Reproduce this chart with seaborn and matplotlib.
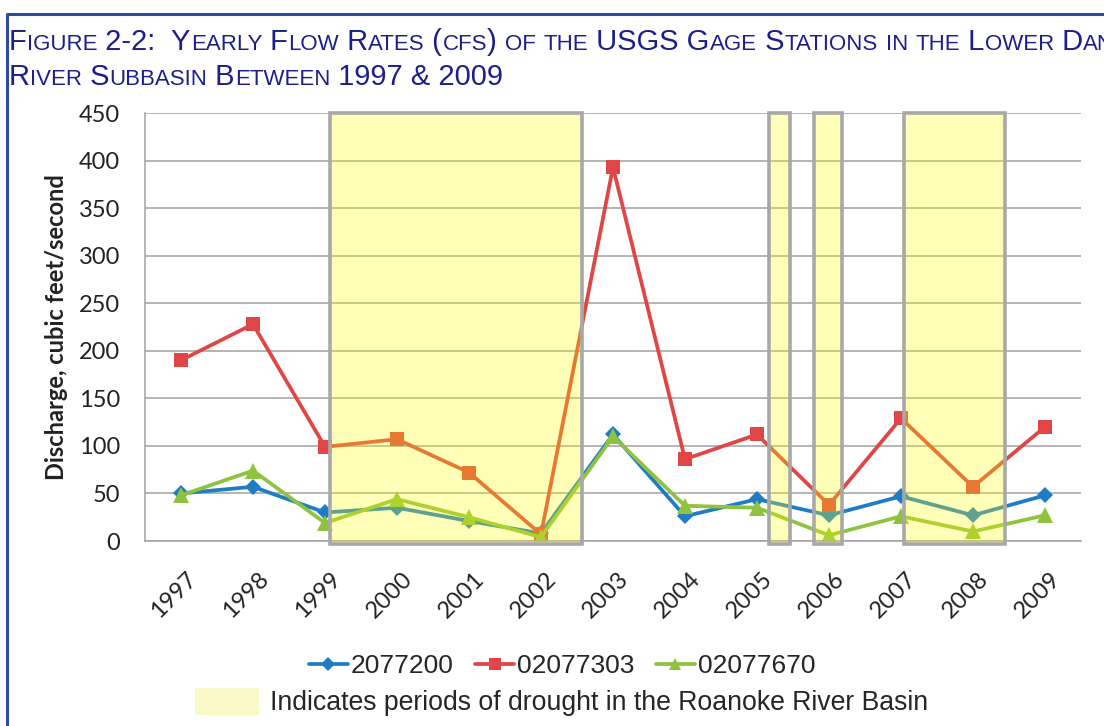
import numpy as np
import pandas as pd
import matplotlib
matplotlib.use("Agg")
import matplotlib.pyplot as plt
import matplotlib.transforms as mtransforms
from matplotlib.patches import Rectangle, Patch
from matplotlib.lines import Line2D
from matplotlib.offsetbox import TextArea, HPacker, VPacker, AnchoredOffsetbox
import seaborn as sns

# ---- data ----
years = ["1997", "1998", "1999", "2000", "2001", "2002", "2003",
         "2004", "2005", "2006", "2007", "2008", "2009"]
stations = ["2077200", "02077303", "02077670"]
flow_2077200 = [50, 57, 30, 35, 21, 8, 112, 26, 44, 27, 47, 27, 48]
flow_02077303 = [190, 228, 99, 107, 72, 7, 393, 86, 112, 38, 129, 57, 120]
flow_02077670 = [48, 74, 19, 44, 25, 4, 110, 37, 35, 6, 26, 10, 27]

# drought periods, in category units (1997 = 0)
drought_start = [2.07, 8.17, 8.79, 10.04]
drought_end = [5.57, 8.46, 9.18, 11.44]

title_lines = ["Figure 2-2:  Yearly Flow Rates (cfs) of the USGS Gage Stations in the Lower Dan",
               "River Subbasin Between 1997 & 2009"]
ylabel = "Discharge, cubic feet/second"
drought_label = "Indicates periods of drought in the Roanoke River Basin"

colors = {"2077200": "#1f7dc6", "02077303": "#e04646", "02077670": "#8fc23f"}
markers = {"2077200": "D", "02077303": "s", "02077670": "^"}
msizes = {"2077200": 8, "02077303": 10, "02077670": 11}

df = pd.DataFrame({
    "pos": list(range(len(years))) * 3,
    "flow": flow_2077200 + flow_02077303 + flow_02077670,
    "station": np.repeat(stations, len(years)),
})

# ---- style ----
sns.set_style("white")
tick_font = "Lato"
text_font = "Liberation Sans"

fig = plt.figure(figsize=(11.04, 7.26), dpi=100)
ax = fig.add_axes([145 / 1104, 1 - 541 / 726, (1081 - 145) / 1104, (541 - 113) / 726])

for st in stations:
    sns.lineplot(data=df[df["station"] == st], x="pos", y="flow", color=colors[st],
                 marker=markers[st], markersize=msizes[st], markeredgewidth=0,
                 linewidth=2.7, ax=ax, legend=False, zorder=2)

# drought overlays (semi transparent yellow on top of the lines)
for s, e in zip(drought_start, drought_end):
    ax.add_patch(Rectangle((s, -3), e - s, 453, facecolor=(1, 1, 0, 0.28),
                           edgecolor="#a8a8a8", linewidth=2.6, zorder=4, clip_on=False))

ax.set_xlim(-0.5, len(years) - 0.5)
ax.set_ylim(0, 450)
ax.set_yticks(np.arange(0, 451, 50))
ax.set_xticks(range(len(years)))
ax.set_xticklabels(years, rotation=45, ha="right", va="center", rotation_mode="anchor",
                   fontsize=17, family=tick_font, color="#222222")
ax.set_xticks(np.arange(-0.5, len(years)), minor=True)
ax.tick_params(axis="x", which="major", length=0, pad=25)
ax.tick_params(axis="x", which="minor", length=7, width=1, color="#a0a0a0", direction="out")
ax.tick_params(axis="y", length=7, width=1, color="#a0a0a0", direction="out", pad=11)
for lab in ax.get_yticklabels():
    lab.set_family(tick_font)
    lab.set_fontsize(17)
    lab.set_color("#222222")
shift = mtransforms.ScaledTranslation(12 / 100, 0, fig.dpi_scale_trans)
for lab in ax.get_xticklabels():
    lab.set_transform(lab.get_transform() + shift)

ax.set_xlabel("")
ax.set_ylabel(ylabel, fontsize=17, fontweight="bold", family=tick_font, color="#222222", labelpad=8)
ax.yaxis.grid(True, color="#a0a0a0", linewidth=1.1)
ax.set_axisbelow(True)
for side in ["top", "right"]:
    ax.spines[side].set_visible(False)
for side in ["left", "bottom"]:
    ax.spines[side].set_color("#a0a0a0")
    ax.spines[side].set_linewidth(1.1)

# ---- legends ----
handles = [Line2D([], [], color=colors[st], marker=markers[st], markersize=msizes[st] * 0.85,
                  markeredgewidth=0, linewidth=2.7) for st in stations]
fig.legend(handles, stations, loc="center", bbox_to_anchor=(562 / 1104, 1 - 666 / 726),
           ncol=3, frameon=False, handlelength=1.5, handletextpad=0.1, columnspacing=0.8,
           prop={"family": text_font, "size": 19})
fig.legend([Patch(facecolor="#fafac8", edgecolor="none")], [drought_label], loc="center left",
           bbox_to_anchor=(171 / 1104, 1 - 702 / 726), frameon=False,
           handlelength=2.4, handleheight=1.2, handletextpad=0.4,
           prop={"family": text_font, "size": 19.2})


# ---- small caps title ----
def small_caps(text, big, small, color):
    runs = []
    for ch in text:
        low = ch.islower()
        if runs and runs[-1][1] == low:
            runs[-1][0] += ch
        else:
            runs.append([ch, low])
    kids = [TextArea(t.upper(), textprops=dict(fontsize=small if low else big, color=color,
                                                family=text_font))
            for t, low in runs]
    return HPacker(children=kids, align="baseline", pad=0, sep=0)


title_box = VPacker(children=[small_caps(t, 21, 16, "#1c1f8a") for t in title_lines],
                    align="left", pad=0, sep=5)
fig.add_artist(AnchoredOffsetbox(loc="upper left", child=title_box, pad=0, borderpad=0,
                                 frameon=False, bbox_to_anchor=(9 / 1104, 1 - 28 / 726),
                                 bbox_transform=fig.transFigure))

# frame around the figure (right and bottom edges fall outside)
fig.add_artist(Line2D([7 / 1104, 7 / 1104, 1.01], [-0.01, 1 - 14 / 726, 1 - 14 / 726],
                      transform=fig.transFigure, color="#2f4c9c", linewidth=2.2))

fig.savefig("out.png", dpi=100)
